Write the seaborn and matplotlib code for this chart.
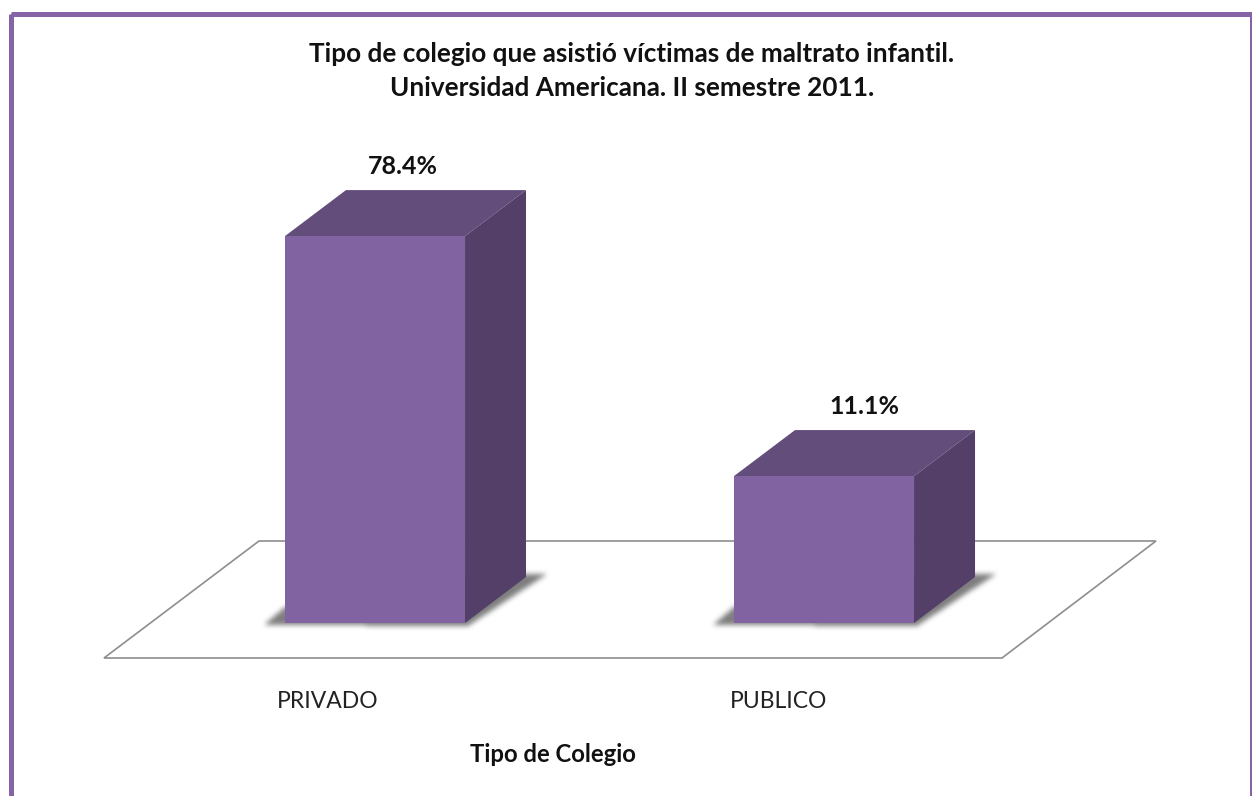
import matplotlib
matplotlib.use("Agg")
import matplotlib.pyplot as plt
from matplotlib.patches import Polygon, Rectangle
from matplotlib.path import Path
from matplotlib.transforms import Affine2D
import numpy as np
import pandas as pd
import seaborn as sns

# Chart data
categories = ["PRIVADO", "PUBLICO"]
percentages = [78.4, 11.1]
value_labels = ["78.4%", "11.1%"]
title_lines = ["Tipo de colegio que asistió víctimas de maltrato infantil.",
               "Universidad Americana. II semestre 2011."]
x_title = "Tipo de Colegio"

# Canvas and plot geometry, in pixels from the top-left corner
W, H = 1252, 796
PLOT_LEFT, PLOT_RIGHT = 150.5, 1048.5
PLOT_TOP, PLOT_BASE = 150, 623
PX_PER_UNIT = 3.566
AXIS_FLOOR = -30.1
DEPTH_X, DEPTH_Y = 61, 46

FRONT = "#8263A2"
TOP = "#624D7B"
SIDE = "#533F68"
FRAME = "#8564A5"
FLOOR_LINE = "#8E8E8E"
TEXT = "#111111"


def box_blur(mask, radius, passes=3):
    """Approximate a gaussian blur with repeated box filters."""
    kernel = np.ones(2 * radius + 1) / (2 * radius + 1)
    for _ in range(passes):
        mask = np.apply_along_axis(np.convolve, 0, mask, kernel, mode="same")
        mask = np.apply_along_axis(np.convolve, 1, mask, kernel, mode="same")
    return mask


def soft_shadow(figure, corners, color=(0.30, 0.30, 0.30), strength=0.72, radius=2):
    """Paint a blurred polygon directly on the figure canvas."""
    pts = np.asarray(corners)
    pad = 12
    xo, yo = np.floor(pts.min(axis=0)).astype(int) - pad
    xe, ye = np.ceil(pts.max(axis=0)).astype(int) + pad
    xx, yy = np.meshgrid(np.arange(xo, xe) + 0.5, np.arange(yo, ye) + 0.5)
    inside = Path(pts).contains_points(np.column_stack([xx.ravel(), yy.ravel()]))
    mask = box_blur(inside.reshape(xx.shape).astype(float), radius)
    rgba = np.zeros(mask.shape + (4,))
    rgba[..., :3] = color
    rgba[..., 3] = mask * strength
    figure.figimage(rgba, xo=xo, yo=yo, origin="lower", zorder=-1, resize=False)


sns.set_theme(style="white")
plt.rcParams["font.family"] = ["Lato", "DejaVu Sans"]

fig = plt.figure(figsize=(W / 100, H / 100), dpi=100, facecolor="white")
pixels = Affine2D().scale(1, -1).translate(0, H)

ax = fig.add_axes([PLOT_LEFT / W, 1 - PLOT_BASE / H,
                   (PLOT_RIGHT - PLOT_LEFT) / W, (PLOT_BASE - PLOT_TOP) / H])
ax.patch.set_alpha(0)

df = pd.DataFrame({"tipo": categories, "pct": percentages})
sns.barplot(data=df, x="tipo", y="pct", color=FRONT, saturation=1, width=0.401,
            linewidth=0, ax=ax, zorder=5)
ax.set_xlim(-0.5, 1.5)
ax.set_ylim(AXIS_FLOOR, AXIS_FLOOR + (PLOT_BASE - PLOT_TOP) / PX_PER_UNIT)
sns.despine(ax=ax, left=True, bottom=True)
ax.set_yticks([])
ax.set_ylabel("")

# Outer frame, open past the bottom edge of the canvas
fig.add_artist(Rectangle((10.5, 13.5), 1241, 800, fill=False, edgecolor=FRAME,
                         linewidth=3.6, joinstyle="miter", transform=pixels))

# Floor plane of the 3D scene
fig.add_artist(Polygon([(104, 658), (1002, 658), (1156, 541), (259, 541)], closed=True,
                       facecolor="white", edgecolor=FLOOR_LINE, linewidth=1.2,
                       transform=pixels, zorder=-2))

depth = ax.transData + Affine2D().translate(DEPTH_X, DEPTH_Y)
for bar, value, label, shift in zip(ax.patches, percentages, value_labels, [28, 40]):
    # Bars stand on the floor of the value axis
    bar.set_y(AXIS_FLOOR)
    bar.set_height(value - AXIS_FLOOR)
    x0, x1 = bar.get_x(), bar.get_x() + bar.get_width()

    # Contact shadow around the footprint of the bar
    bx0, by = ax.transData.transform((x0, AXIS_FLOOR))
    bx1, _ = ax.transData.transform((x1, AXIS_FLOOR))
    soft_shadow(fig, [(bx0 - 21, by - 2), (bx1 + 3, by - 3),
                      (bx1 + DEPTH_X + 21, by + DEPTH_Y + 3),
                      (bx1 + DEPTH_X, by + DEPTH_Y + 3), (bx0, by + 16)])

    # Top and side faces extruded from the front face
    top_face = [ax.transData.transform(p) for p in [(x0, value), (x1, value)]]
    top_face += [depth.transform((x1, value)), depth.transform((x0, value))]
    side_face = [ax.transData.transform(p) for p in [(x1, value), (x1, AXIS_FLOOR)]]
    side_face += [depth.transform((x1, AXIS_FLOOR)), depth.transform((x1, value))]
    ax.add_patch(Polygon(top_face, closed=True, facecolor=TOP, edgecolor="none",
                         transform=Affine2D(), zorder=4, clip_on=False))
    ax.add_patch(Polygon(side_face, closed=True, facecolor=SIDE, edgecolor="none",
                         transform=Affine2D(), zorder=4, clip_on=False))

    # Value label above the back edge of the top face
    ax.annotate(label, xy=((x0 + x1) / 2, value), xytext=(shift * 0.72, 70 * 0.72),
                textcoords="offset points", ha="center", va="center",
                fontsize=18, fontweight="bold", color=TEXT, annotation_clip=False)

# Category labels sit left of the bars, on the front edge of the floor
ax.tick_params(axis="x", length=0, pad=49, labelsize=16.5, labelcolor="#222222")
ax.set_xticks(range(len(categories)), categories)
for tick, nudge in zip(ax.get_xticklabels(), [-47, -45]):
    tick.set_transform(tick.get_transform() + Affine2D().translate(nudge, 0))

ax.set_xlabel(x_title, fontsize=17.2, fontweight="bold", color=TEXT)
ax.xaxis.set_label_coords((553 - PLOT_LEFT) / (PLOT_RIGHT - PLOT_LEFT),
                          -(754 - PLOT_BASE) / (PLOT_BASE - PLOT_TOP))
ax.xaxis.label.set_va("center")

fig.text(632 / W, 1 - 71 / H, "\n".join(title_lines), ha="center", va="center",
         fontsize=18.8, fontweight="bold", color=TEXT, linespacing=1.45)

fig.savefig("out.png", dpi=100)
